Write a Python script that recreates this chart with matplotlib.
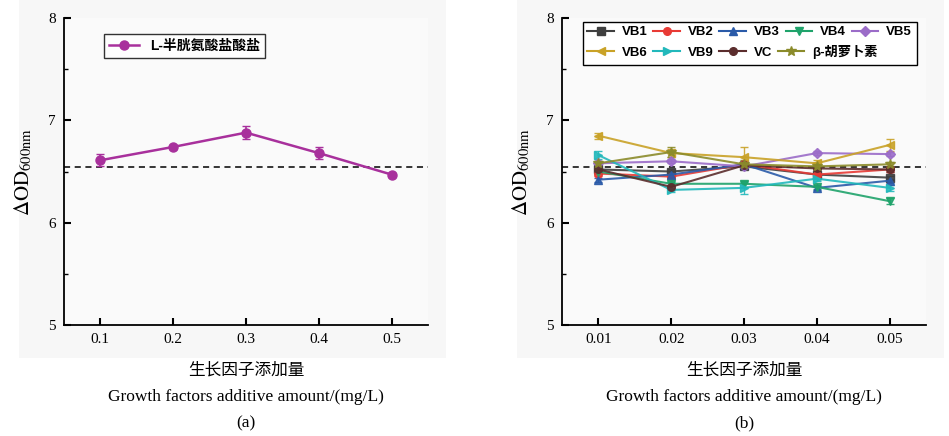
import matplotlib.pyplot as plt
from matplotlib.patches import Rectangle
from matplotlib.lines import Line2D
from matplotlib.ticker import MultipleLocator

# panel (a)
x_a = [0.1, 0.2, 0.3, 0.4, 0.5]
y_a = [6.61, 6.74, 6.88, 6.68, 6.47]
err_a = [0.06, 0.02, 0.06, 0.06, 0.02]
label_a = "L-半胱氨酸盐酸盐"

# panel (b)
x_b = [0.01, 0.02, 0.03, 0.04, 0.05]
names_b = ["VB1", "VB2", "VB3", "VB4", "VB5", "VB6", "VB9", "VC", "β-胡萝卜素"]
vb1 = [6.52, 6.50, 6.55, 6.47, 6.44]
vb2 = [6.48, 6.45, 6.57, 6.47, 6.52]
vb3 = [6.42, 6.47, 6.57, 6.34, 6.41]
vb4 = [6.50, 6.38, 6.38, 6.35, 6.21]
vb5 = [6.58, 6.60, 6.55, 6.68, 6.67]
vb6 = [6.85, 6.68, 6.64, 6.58, 6.76]
vb9 = [6.66, 6.32, 6.34, 6.43, 6.34]
vc = [6.52, 6.35, 6.56, 6.53, 6.52]
carotene = [6.58, 6.69, 6.57, 6.55, 6.57]
errs_b = [
    [0.02, 0.02, 0.03, 0.02, 0.02],
    [0.02, 0.02, 0.03, 0.02, 0.02],
    [0.02, 0.02, 0.03, 0.02, 0.02],
    [0.02, 0.02, 0.03, 0.02, 0.03],
    [0.02, 0.02, 0.03, 0.02, 0.02],
    [0.03, 0.04, 0.10, 0.03, 0.06],
    [0.04, 0.02, 0.06, 0.02, 0.03],
    [0.02, 0.02, 0.03, 0.02, 0.02],
    [0.02, 0.05, 0.04, 0.02, 0.02],
]
baseline = 6.545

colors_b = ["#3f3f3f", "#e83a35", "#2a5aa8", "#1fa36b", "#9b6cc8",
            "#c9a227", "#22b8bb", "#5b2d2d", "#8b8b2b"]
markers_b = ["s", "o", "^", "v", "D", "<", ">", "o", "*"]

plt.rcParams['font.family'] = ['Liberation Serif', 'Noto Sans CJK SC']
plt.rcParams['mathtext.fontset'] = 'stix'

fig = plt.figure(figsize=(9.49, 4.36), dpi=100)

# light gray panels behind each plot
for x0 in (0.02, 0.545):
    fig.patches.append(Rectangle((x0, 0.18), 0.45, 0.82, transform=fig.transFigure,
                                 facecolor="#f7f7f7", edgecolor="none", zorder=-1))

ax_a = fig.add_axes([0.0674, 0.2546, 0.3836, 0.7041])
ax_b = fig.add_axes([0.5922, 0.2546, 0.3836, 0.7041])

ax_a.errorbar(x_a, y_a, yerr=err_a, color="#a8309c", marker="o", ms=6.5, lw=1.8,
              capsize=3, elinewidth=1.2)
handles_a = [Line2D([], [], color="#a8309c", marker="o", ms=6.5, lw=1.8)]

series_b = [vb1, vb2, vb3, vb4, vb5, vb6, vb9, vc, carotene]
handles_b = []
for name, ys, es, c, m in zip(names_b, series_b, errs_b, colors_b, markers_b):
    ms = 7.5 if m == "*" else 5.5
    ax_b.errorbar(x_b, ys, yerr=es, color=c, marker=m, ms=ms,
                  lw=1.5, capsize=3, elinewidth=1.0, alpha=0.9)
    handles_b.append(Line2D([], [], color=c, marker=m, ms=ms, lw=1.5))

for ax, xt in ((ax_a, x_a), (ax_b, x_b)):
    step = xt[1] - xt[0]
    ax.axhline(baseline, color="black", ls=(0, (4, 3)), lw=1.1, zorder=0)
    ax.set_xlim(xt[0] - step / 2, xt[-1] + step / 2)
    ax.set_ylim(5, 8)
    ax.set_xticks(xt)
    ax.set_xticklabels([f"{v:g}" for v in xt])
    ax.yaxis.set_major_locator(MultipleLocator(1))
    ax.yaxis.set_minor_locator(MultipleLocator(0.5))
    ax.tick_params(direction="in", length=5, width=1.5, labelsize=11, pad=6)
    ax.tick_params(which="minor", direction="in", length=3, width=1)
    ax.spines["top"].set_visible(False)
    ax.spines["right"].set_visible(False)
    ax.spines["left"].set_linewidth(1.3)
    ax.spines["bottom"].set_linewidth(1.3)
    ax.set_facecolor("#fafafa")
    ax.set_ylabel(r"$\Delta\mathrm{OD}_{600\mathrm{nm}}$", fontsize=15, labelpad=10)

leg_prop = {"family": ["Liberation Sans", "Noto Sans CJK SC"], "weight": "bold"}

leg_a = ax_a.legend(handles_a, [label_a], loc="upper left", bbox_to_anchor=(0.09, 0.97),
                    frameon=True, fancybox=False, edgecolor="black", handlelength=2.2,
                    borderpad=0.35, prop={**leg_prop, "size": 10})
leg_a.get_frame().set_linewidth(1.0)

# legend (b): two rows on one grid, drawn as two frameless legends inside one box
row_kw = dict(loc="center left", ncol=5, frameon=False, handlelength=2.0,
              handletextpad=0.6, columnspacing=0.45, borderpad=0, borderaxespad=0,
              prop={**leg_prop, "size": 9.5})
row1 = ax_b.legend(handles_b[:5], names_b[:5], bbox_to_anchor=(0.07, 0.954), **row_kw)
ax_b.add_artist(row1)
ax_b.legend(handles_b[5:], names_b[5:], bbox_to_anchor=(0.07, 0.889), **row_kw)
ax_b.add_patch(Rectangle((0.058, 0.847), 0.917, 0.14, transform=ax_b.transAxes,
                         facecolor="white", edgecolor="black", lw=1.0, zorder=4,
                         clip_on=False))

for cx, tag in ((246 / 949, "(a)"), (744 / 949, "(b)")):
    fig.text(cx, 0.151, "生长因子添加量", ha="center", va="center", fontsize=12,
             family=["Noto Sans CJK SC"])
    fig.text(cx, 0.089, "Growth factors additive amount/(mg/L)", ha="center", va="center",
             fontsize=12.5)
    fig.text(cx, 0.028, tag, ha="center", va="center", fontsize=12.5)

fig.savefig("out.png", dpi=100)
